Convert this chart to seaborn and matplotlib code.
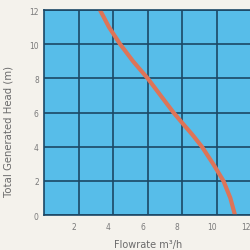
import matplotlib
matplotlib.use("Agg")
import matplotlib.pyplot as plt
import matplotlib.transforms as mtransforms
import pandas as pd
import seaborn as sns

# Curva de la bomba
flowrate = [3.23, 3.75, 4.4, 5.15, 6.0, 6.75, 7.5, 8.0, 8.6, 9.15, 9.8, 10.4, 10.8, 11.07]
head = [12.0, 11.0, 10.0, 9.0, 8.0, 7.0, 6.0, 5.4, 4.7, 4.0, 3.0, 2.0, 1.0, 0.0]
x_ticks = [2, 4, 6, 8, 10, 12]
y_ticks = [0, 2, 4, 6, 8, 10, 12]

df = pd.DataFrame({"flow": flowrate, "head": head})

sns.set_theme(style="white")
plt.rcParams["font.family"] = ["DejaVu Sans"]

fig = plt.figure(figsize=(2.51, 2.51), dpi=100, facecolor="#f4f2ec")
ax = fig.add_axes([0.177, 0.139, 0.823, 0.817])
ax.set_facecolor("#57bde9")

sns.lineplot(data=df, x="flow", y="head", ax=ax, color="#de7458",
             linewidth=3.0, sort=False)

ax.set_xlim(0, 12)
ax.set_ylim(0, 12)
ax.set_xticks(x_ticks)
ax.set_yticks(y_ticks)
ax.grid(True, color="#1c4866", linewidth=1.2)
ax.set_axisbelow(True)
for s in ax.spines.values():
    s.set_color("#1c4866")
    s.set_linewidth(1.2)
ax.tick_params(length=0, labelsize=5.5, colors="#7a7a7a", pad=5)
ax.tick_params(axis="y", pad=4)

# Etiquetas del eje x algo desplazadas a la izquierda, como en el original
shift = mtransforms.ScaledTranslation(-5 / 100, 0, fig.dpi_scale_trans)
for lbl in ax.get_xticklabels():
    lbl.set_transform(lbl.get_transform() + shift)

ax.set_xlabel("Flowrate m³/h", fontsize=7, color="#6a6a6a", labelpad=6)
ax.set_ylabel("Total Generated Head (m)", fontsize=7.3, color="#6a6a6a")
ax.yaxis.set_label_coords(-0.15, 0.415)

fig.savefig("out.png", dpi=100, facecolor=fig.get_facecolor())
